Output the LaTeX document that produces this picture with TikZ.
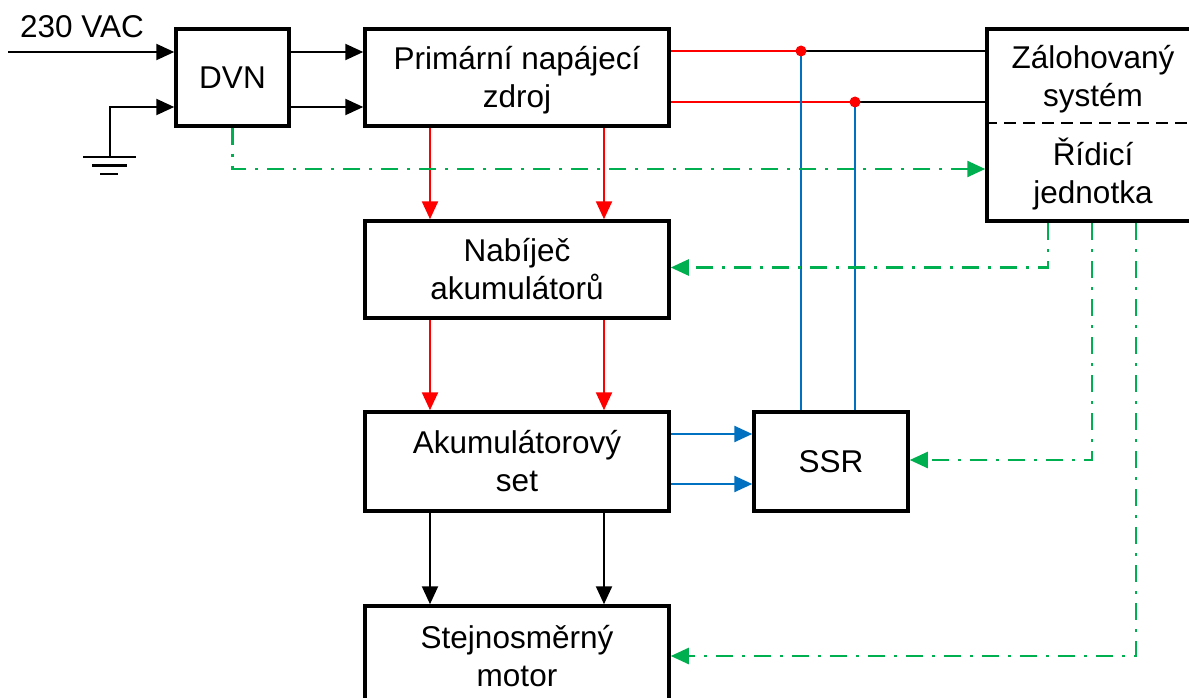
\documentclass[tikz,border=0pt]{standalone}
\usepackage{fontspec}
\setmainfont{Liberation Sans}
\usetikzlibrary{arrows.meta}
\definecolor{gr}{HTML}{00B050}
\definecolor{bl}{HTML}{0070C0}
\definecolor{rd}{HTML}{FF0000}
\begin{document}
\begin{tikzpicture}[x=1pt,y=-1pt,
  font=\fontsize{31.5}{38}\selectfont,
  blk/.style={draw,line width=3.5pt,minimum width=304pt,align=center,inner sep=0pt},
  txt/.style={align=center,inner sep=0pt},
  tip/.style={-{Triangle[length=18pt,width=16pt]}},
  bar/.style={line width=2.2pt},
  red/.style={rd,line width=2.4pt},
  blue/.style={bl,line width=2.4pt},
  bluethin/.style={bl,line width=1.8pt},
  thin/.style={black,line width=1.4pt},
  sig/.style={gr,line width=2.4pt,dash pattern=on 17pt off 9pt on 3pt off 9pt}]
\useasboundingbox (0,0) rectangle (1189,698);
% boxes
\node[blk,minimum width=113pt,minimum height=97pt] (dvn) at (232.5,77.5) {DVN};
\node[blk,minimum height=97pt] (prim) at (517,77.5) {};
\node[txt] (primt) at (517,80) {Primární napájecí\\zdroj};
\node[blk,minimum width=213pt,minimum height=192pt] (zal) at (1093.5,125) {};
\node[txt] (zalt) at (1093,79) {Zálohovaný\\systém};
\node[txt] (ridt) at (1093,174) {Řídicí\\jednotka};
\node[blk,minimum height=97pt] (nab) at (517,269.5) {Nabíječ\\akumulátorů};
\node[blk,minimum height=99pt] (aku) at (517,461.5) {Akumulátorový\\set};
\node[blk,minimum width=154pt,minimum height=99pt] (ssr) at (831,461.5) {SSR};
\node[blk,minimum height=100pt] (mot) at (517,656) {Stejnosměrný\\motor};
\draw[line width=1.6pt,dash pattern=on 12pt off 7pt] ([yshift=2pt]zal.west) -- ([yshift=2pt]zal.east);
% input and ground
\node[txt,anchor=base west] (vac) at (20,38) {230 VAC};
\coordinate (in) at (8,52);
\coordinate (gnd) at (110,157);
\draw[bar,tip] (in) -- ([yshift=25.5pt]dvn.west);
\draw[bar,tip] (gnd) |- ([yshift=-29.5pt]dvn.west);
\draw[bar] (83,157) -- (136,157);
\draw[bar] (92,165.5) -- (127,165.5);
\draw[bar] (100,174) -- (118,174);
% DVN to primary
\draw[bar,tip] ([yshift=25.5pt]dvn.east) -- ([yshift=25.5pt]dvn.east -| prim.west);
\draw[bar,tip] ([yshift=-29.5pt]dvn.east) -- ([yshift=-29.5pt]dvn.east -| prim.west);
% power path
\foreach \s in {-87,87}{
  \draw[red,tip] ([xshift=\s pt]prim.south) -- ([xshift=\s pt]nab.north);
  \draw[red,tip] ([xshift=\s pt]nab.south) -- ([xshift=\s pt]aku.north);
  \draw[bar,tip] ([xshift=\s pt]aku.south) -- ([xshift=\s pt]mot.north);
}
% outputs to backed system
\coordinate (d1) at (801,51);
\coordinate (d2) at (855,102);
\draw[red] (prim.east |- d1) -- (d1);
\draw[red] (prim.east |- d2) -- (d2);
\draw[thin] (d1) -- (zal.west |- d1);
\draw[thin] (d2) -- (zal.west |- d2);
\draw[bluethin] ([xshift=-30pt]ssr.north) -- (d1);
\draw[bluethin] ([xshift=24pt]ssr.north) -- (d2);
\fill[rd] (d1) circle (5.5pt);
\fill[rd] (d2) circle (5.5pt);
% battery to SSR
\draw[blue,tip] ([yshift=27.5pt]aku.east) -- ([yshift=27.5pt]aku.east -| ssr.west);
\draw[blue,tip] ([yshift=-22.5pt]aku.east) -- ([yshift=-22.5pt]aku.east -| ssr.west);
% control signals
\draw[sig,tip] (dvn.south) |- ([yshift=-44pt]zal.west);
\draw[sig,tip] ([xshift=-45.5pt]zal.south) |- ([yshift=2pt]nab.east);
\draw[sig,tip] ([xshift=-1.5pt]zal.south) |- ([yshift=1.5pt]ssr.east);
\draw[sig,tip] ([xshift=42.5pt]zal.south) |- (mot.east);
\end{tikzpicture}
\end{document}
